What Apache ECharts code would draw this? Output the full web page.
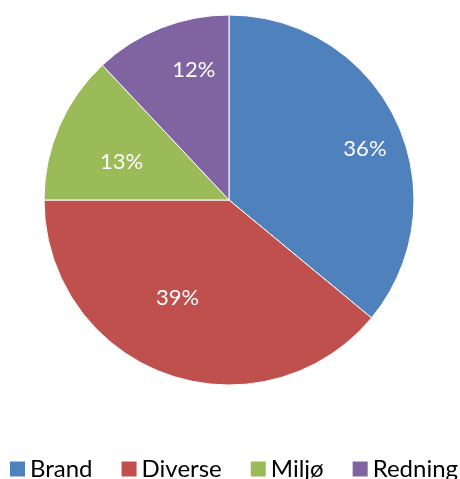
<!DOCTYPE html>
<html>
<head>
<meta charset="utf-8">
<script src="https://cdn.jsdelivr.net/npm/echarts@6/dist/echarts.min.js"></script>
<style>
html,body{margin:0;padding:0;background:#fff;}
#chart{width:460px;height:479px;}
</style>
</head>
<body>
<div id="chart"></div>
<script>
const categories = ['Brand', 'Diverse', 'Miljø', 'Redning'];
const values = [36, 39, 13, 12];
const colors = ['#4F81BD', '#C0504D', '#9BBB59', '#8064A2'];

// Excel "best fit" label placement: distance as fraction of radius, angular nudge in degrees
const labelRatio = [0.785, 0.598, 0.616, 0.728];
const labelShift = [4.6, 7.9, -3.9, 6.5];

const cx = 229, cy = 200, R = 185;
const total = values.reduce((a, b) => a + b, 0);
const midAngles = [];
let acc = 0;
values.forEach(v => { midAngles.push((acc + v / 2) / total * 2 * Math.PI); acc += v; });

const chart = echarts.init(document.getElementById('chart'));
chart.setOption({
  animation: false,
  color: colors,
  legend: {
    left: 10,
    top: 457,
    padding: 0,
    itemWidth: 15,
    itemHeight: 15,
    itemGap: 29,
    itemStyle: { borderWidth: 0 },
    icon: 'rect',
    textStyle: { fontFamily: 'Lato', fontSize: 24, color: '#000' },
    data: categories
  },
  series: [{
    type: 'pie',
    center: [cx, cy],
    radius: [0, R],
    startAngle: 90,
    clockwise: true,
    silent: true,
    itemStyle: { borderColor: '#fff', borderWidth: 1 },
    label: {
      show: true,
      position: 'inside',
      formatter: p => Math.round(p.value / total * 100) + '%',
      color: '#fff',
      fontFamily: 'Lato',
      fontSize: 22
    },
    labelLine: { show: false },
    labelLayout: p => {
      const i = p.dataIndex;
      const a = midAngles[i] + labelShift[i] * Math.PI / 180;
      const r = R * labelRatio[i];
      return { x: cx + r * Math.sin(a), y: cy - r * Math.cos(a), align: 'center', verticalAlign: 'middle' };
    },
    data: categories.map((c, i) => ({ name: c, value: values[i] }))
  }]
});
</script>
</body>
</html>
